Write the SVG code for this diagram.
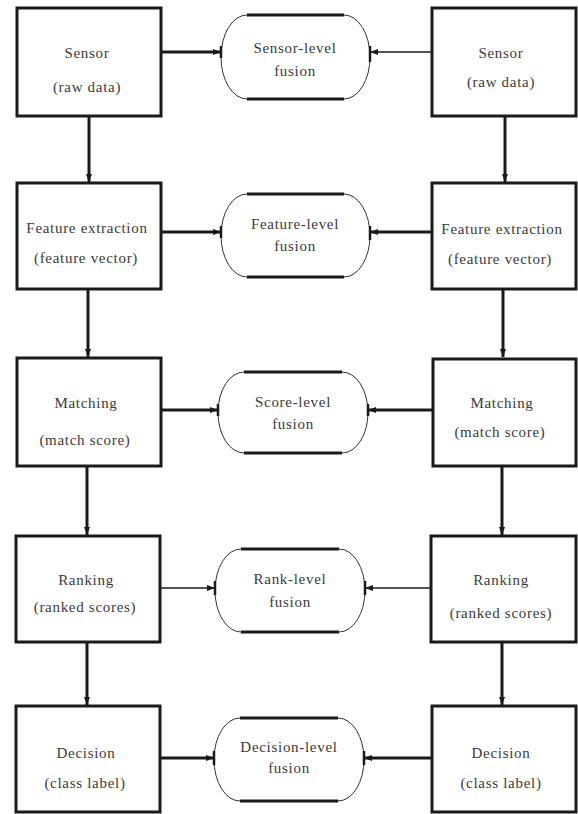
<svg xmlns="http://www.w3.org/2000/svg" width="578" height="814" viewBox="0 0 578 814">
  <style>
    .box { fill: #fff; stroke: #1a1a1a; stroke-width: 3; }
    .pill { fill: #fff; stroke: #333; stroke-width: 1; }
    .rail { stroke: #1a1a1a; stroke-width: 3.2; fill: none; }
    .tick { stroke: #1a1a1a; stroke-width: 2.5; fill: none; }
    .t { font-family: "Liberation Serif", "Times New Roman", serif; font-size: 15px; fill: #3a3a3a; text-anchor: middle; letter-spacing: 0.7px; }
    .thick { stroke: #1a1a1a; stroke-width: 3; fill: none; }
    .thin { stroke: #1a1a1a; stroke-width: 1.5; fill: none; }
  </style>
  <defs>
    <marker id="ah" viewBox="0 0 8 8" refX="8" refY="4" markerWidth="8" markerHeight="8" markerUnits="userSpaceOnUse" orient="auto">
      <path d="M0,1 L8,4 L0,7 Z" fill="#1a1a1a"/>
    </marker>
  </defs>

  <rect width="578" height="814" fill="#fff"/>

  <!-- connectors -->
  <g id="connectors">
    <!-- vertical flow, left chain -->
    <line class="thick" x1="89" y1="116" x2="89" y2="182" marker-end="url(#ah)"/>
    <line class="thick" x1="88" y1="289" x2="88" y2="357" marker-end="url(#ah)"/>
    <line class="thick" x1="87" y1="466" x2="87" y2="535" marker-end="url(#ah)"/>
    <line class="thick" x1="87" y1="642" x2="87" y2="705" marker-end="url(#ah)"/>
    <!-- vertical flow, right chain -->
    <line class="thick" x1="505" y1="116" x2="505" y2="182" marker-end="url(#ah)"/>
    <line class="thick" x1="503" y1="289" x2="503" y2="357" marker-end="url(#ah)"/>
    <line class="thick" x1="502" y1="466" x2="502" y2="535" marker-end="url(#ah)"/>
    <line class="thick" x1="502" y1="642" x2="502" y2="705" marker-end="url(#ah)"/>
    <!-- into fusion nodes -->
    <line class="thick" x1="161" y1="52" x2="221" y2="52" marker-end="url(#ah)"/>
    <line class="thin" x1="432" y1="52" x2="370" y2="52" marker-end="url(#ah)"/>
    <line class="thick" x1="161" y1="232" x2="221" y2="232" marker-end="url(#ah)"/>
    <line class="thick" x1="432" y1="232" x2="370" y2="232" marker-end="url(#ah)"/>
    <line class="thick" x1="161" y1="410" x2="218" y2="410" marker-end="url(#ah)"/>
    <line class="thick" x1="433" y1="410" x2="368" y2="410" marker-end="url(#ah)"/>
    <line class="thin" x1="160" y1="588" x2="215" y2="588" marker-end="url(#ah)"/>
    <line class="thin" x1="431" y1="588" x2="365" y2="588" marker-end="url(#ah)"/>
    <line class="thick" x1="160" y1="758" x2="214" y2="758" marker-end="url(#ah)"/>
    <line class="thick" x1="432" y1="758" x2="364" y2="758" marker-end="url(#ah)"/>
  </g>

  <!-- left chain -->
  <g id="sensor-left">
    <rect class="box" x="17" y="8" width="144" height="108"/>
    <text class="t" x="87" y="58">Sensor</text>
    <text class="t" x="87" y="92">(raw data)</text>
  </g>
  <g id="feature-left">
    <rect class="box" x="17" y="183" width="144" height="106"/>
    <text class="t" x="87" y="233">Feature extraction</text>
    <text class="t" x="86" y="263">(feature vector)</text>
  </g>
  <g id="matching-left">
    <rect class="box" x="17" y="358" width="144" height="108"/>
    <text class="t" x="86" y="408">Matching</text>
    <text class="t" x="85" y="445">(match score)</text>
  </g>
  <g id="ranking-left">
    <rect class="box" x="16" y="536" width="144" height="106"/>
    <text class="t" x="86" y="585">Ranking</text>
    <text class="t" x="85" y="612">(ranked scores)</text>
  </g>
  <g id="decision-left">
    <rect class="box" x="16" y="706" width="144" height="106"/>
    <text class="t" x="86" y="758">Decision</text>
    <text class="t" x="85" y="788">(class label)</text>
  </g>

  <!-- right chain -->
  <g id="sensor-right">
    <rect class="box" x="432" y="8" width="144" height="108"/>
    <text class="t" x="501" y="58">Sensor</text>
    <text class="t" x="501" y="87">(raw data)</text>
  </g>
  <g id="feature-right">
    <rect class="box" x="432" y="183" width="144" height="106"/>
    <text class="t" x="502" y="234">Feature extraction</text>
    <text class="t" x="500" y="264">(feature vector)</text>
  </g>
  <g id="matching-right">
    <rect class="box" x="433" y="359" width="143" height="107"/>
    <text class="t" x="502" y="408">Matching</text>
    <text class="t" x="500" y="437">(match score)</text>
  </g>
  <g id="ranking-right">
    <rect class="box" x="431" y="536" width="145" height="106"/>
    <text class="t" x="501" y="585">Ranking</text>
    <text class="t" x="501" y="618">(ranked scores)</text>
  </g>
  <g id="decision-right">
    <rect class="box" x="432" y="706" width="144" height="106"/>
    <text class="t" x="501" y="758">Decision</text>
    <text class="t" x="501" y="788">(class label)</text>
  </g>

  <!-- fusion nodes: thin rounded outline with heavy top and bottom rails -->
  <g id="sensor-fusion">
    <path class="pill" d="M247,15 H344 A26,42 0 0 1 344,99 H247 A26,42 0 0 1 247,15 Z"/>
    <path class="rail" d="M247,15 H344 M247,99 H344"/>
    <path class="tick" d="M370,46 V62 M221,46 V58"/>
    <text class="t" x="295" y="53">Sensor-level</text>
    <text class="t" x="295" y="76">fusion</text>
  </g>
  <g id="feature-fusion">
    <path class="pill" d="M247,194 H344 A26,41.5 0 0 1 344,277 H247 A26,41.5 0 0 1 247,194 Z"/>
    <path class="rail" d="M247,194 H344 M247,277 H344"/>
    <path class="tick" d="M370,226 V240 M221,226 V238"/>
    <text class="t" x="295" y="229">Feature-level</text>
    <text class="t" x="295" y="251">fusion</text>
  </g>
  <g id="score-fusion">
    <path class="pill" d="M244,372 H342 A26,40.5 0 0 1 342,453 H244 A26,40.5 0 0 1 244,372 Z"/>
    <path class="rail" d="M244,372 H342 M244,453 H342"/>
    <path class="tick" d="M368,404 V416 M218,404 V416"/>
    <text class="t" x="293" y="407">Score-level</text>
    <text class="t" x="293" y="429">fusion</text>
  </g>
  <g id="rank-fusion">
    <path class="pill" d="M241,549 H339 A26,41.5 0 0 1 339,632 H241 A26,41.5 0 0 1 241,549 Z"/>
    <path class="rail" d="M241,549 H339 M241,632 H339"/>
    <path class="tick" d="M365,581 V595 M215,581 V595"/>
    <text class="t" x="290" y="584">Rank-level</text>
    <text class="t" x="290" y="607">fusion</text>
  </g>
  <g id="decision-fusion">
    <path class="pill" d="M240,718 H338 A26,41.5 0 0 1 338,801 H240 A26,41.5 0 0 1 240,718 Z"/>
    <path class="rail" d="M240,718 H338 M240,801 H338"/>
    <path class="tick" d="M364,751 V765 M214,751 V765"/>
    <text class="t" x="289" y="752">Decision-level</text>
    <text class="t" x="289" y="773">fusion</text>
  </g>
</svg>
